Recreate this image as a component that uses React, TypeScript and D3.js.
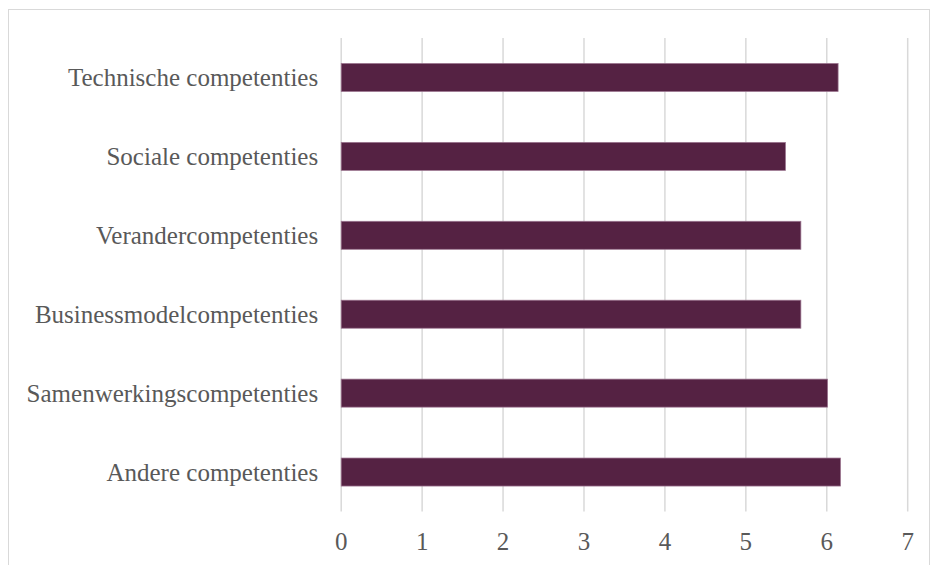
import React from "react";
import * as d3 from "d3";

const categories = [
  "Technische competenties",
  "Sociale competenties",
  "Verandercompetenties",
  "Businessmodelcompetenties",
  "Samenwerkingscompetenties",
  "Andere competenties",
];
const values = [6.14, 5.49, 5.68, 5.68, 6.01, 6.17];
const ticks = [0, 1, 2, 3, 4, 5, 6, 7];

const W = 931;
const H = 565;
const left = 341.2;
const right = 907.7;
const top = 38;
const bottom = 511.5;
const FONT = "'Liberation Serif', serif";

export default function App() {
  const x = d3.scaleLinear().domain([0, 7]).range([left, right]);
  const y = d3
    .scaleBand<string>()
    .domain(categories)
    .range([top, bottom])
    .paddingInner(0.645)
    .paddingOuter(0.3225);
  return (
    <svg
      width={W}
      height={H}
      style={{ position: "absolute", left: 0, top: 0, background: "#fff" }}
    >
      <rect x={8.5} y={9.5} width={921} height={570} fill="#fff" stroke="#d9d9d9" strokeWidth={1} />
      {ticks.map((t) => (
        <line key={t} x1={x(t)} x2={x(t)} y1={top} y2={bottom} stroke="#d9d9d9" strokeWidth={1.5} />
      ))}
      {categories.map((c, i) => (
        <rect
          key={c}
          x={x(0)}
          y={y(c)!}
          width={x(values[i]) - x(0)}
          height={y.bandwidth()}
          fill="#552243"
          stroke="#9c7590"
          strokeWidth={0.75}
        />
      ))}
      {categories.map((c) => (
        <text
          key={c}
          x={left - 23}
          y={y(c)! + y.bandwidth() / 2}
          dy="0.35em"
          textAnchor="end"
          fontFamily={FONT}
          fontSize={25}
          fill="#595959"
        >
          {c}
        </text>
      ))}
      {ticks.map((t) => (
        <text
          key={t}
          x={x(t)}
          y={541}
          dy="0.35em"
          textAnchor="middle"
          fontFamily={FONT}
          fontSize={25}
          fill="#595959"
        >
          {t}
        </text>
      ))}
    </svg>
  );
}
